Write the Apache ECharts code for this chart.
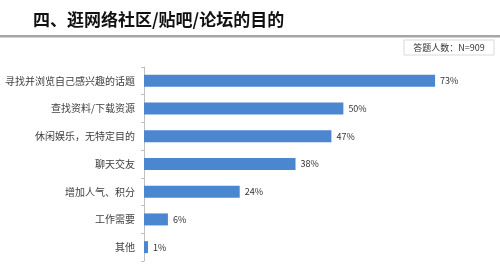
<!DOCTYPE html>
<html>
<head>
<meta charset="utf-8">
<script src="https://cdn.jsdelivr.net/npm/echarts@6/dist/echarts.min.js"></script>
<style>
  html, body { margin: 0; padding: 0; background: #fff; }
  #chart { width: 500px; height: 277px; }
</style>
</head>
<body>
<div id="chart"></div>
<script>
var categories = ['寻找并浏览自己感兴趣的话题', '查找资料/下载资源', '休闲娱乐，无特定目的', '聊天交友', '增加人气、积分', '工作需要', '其他'];
var values = [73, 50, 47, 38, 24, 6, 1];
var titleText = '四、逛网络社区/贴吧/论坛的目的';
var noteText = '答题人数：N=909';

var font = '"Noto Sans CJK SC", "Microsoft YaHei", sans-serif';
var myChart = echarts.init(document.getElementById('chart'));

myChart.setOption({
  animation: false,
  textStyle: { fontFamily: font },
  title: {
    text: titleText,
    left: 28,
    top: 6,
    textStyle: { fontSize: 17, fontWeight: 'bold', color: '#111', fontFamily: font }
  },
  graphic: [
    {
      type: 'rect',
      shape: { x: 0, y: 35, width: 500, height: 2.5 },
      style: { fill: '#a6a6a6' }
    },
    {
      type: 'rect',
      shape: { x: 404, y: 40, width: 90, height: 15 },
      style: { fill: '#fff', stroke: '#d9d9d9', lineWidth: 1 }
    },
    {
      type: 'text',
      x: 449,
      y: 47.5,
      style: {
        text: noteText,
        fill: '#333',
        font: '9px ' + font,
        align: 'center',
        verticalAlign: 'middle'
      }
    }
  ],
  grid: {
    left: 144,
    right: 37,
    top: 67,
    bottom: 16,
    containLabel: false
  },
  xAxis: {
    type: 'value',
    min: 0,
    max: 80,
    show: false
  },
  yAxis: {
    type: 'category',
    data: categories,
    inverse: true,
    axisLine: { show: true, lineStyle: { color: '#bfbfbf', width: 1 } },
    axisTick: { show: true, length: 3, lineStyle: { color: '#bfbfbf' } },
    axisLabel: { fontSize: 10, color: '#404040', margin: 9, fontFamily: font }
  },
  series: [{
    type: 'bar',
    data: values,
    barWidth: 12,
    itemStyle: { color: '#4b87d0' },
    label: {
      show: true,
      position: 'right',
      distance: 5,
      formatter: '{c}%',
      fontSize: 9,
      color: '#333',
      fontFamily: font
    }
  }]
});
</script>
</body>
</html>
